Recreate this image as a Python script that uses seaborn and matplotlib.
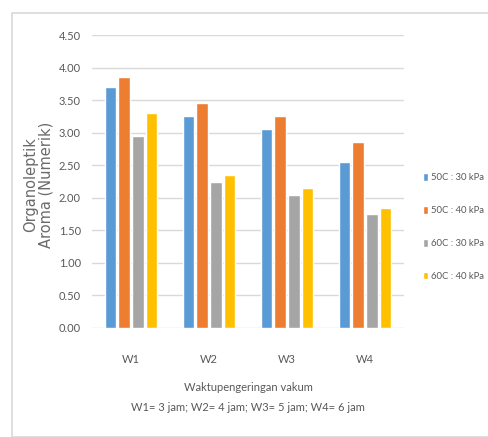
import matplotlib
matplotlib.use("Agg")
import matplotlib.pyplot as plt
import seaborn as sns
import pandas as pd
from matplotlib.patches import Rectangle

categories = ["W1", "W2", "W3", "W4"]
series_names = ["50C : 30 kPa", "50C : 40 kPa", "60C : 30 kPa", "60C : 40 kPa"]
s_50_30 = [3.70, 3.25, 3.05, 2.55]
s_50_40 = [3.85, 3.45, 3.25, 2.85]
s_60_30 = [2.95, 2.25, 2.05, 1.75]
s_60_40 = [3.30, 2.35, 2.15, 1.85]
yticks = [0.0, 0.5, 1.0, 1.5, 2.0, 2.5, 3.0, 3.5, 4.0, 4.5]
colors = ["#5B9BD5", "#ED7D31", "#A5A5A5", "#FFC000"]

rows = []
for name, vals in zip(series_names, [s_50_30, s_50_40, s_60_30, s_60_40]):
    for c, v in zip(categories, vals):
        rows.append({"cat": c, "series": name, "val": v})
df = pd.DataFrame(rows)

sns.set_theme(style="white")
plt.rcParams["font.family"] = ["Lato", "DejaVu Sans"]
txt = "#595959"

fig = plt.figure(figsize=(4.89, 4.37), dpi=100)
fig.patches.append(Rectangle((12 / 489, 0), 1.0, 1 - 13 / 437, transform=fig.transFigure,
                             fill=False, edgecolor="#D9D9D9", linewidth=1.2))
ax = fig.add_axes([92 / 489, 1 - 328 / 437, 312 / 489, 293 / 437])

sns.barplot(data=df, x="cat", y="val", hue="series", palette=colors, ax=ax,
            width=0.7, gap=0.15, order=categories, hue_order=series_names,
            errorbar=None, saturation=1, legend=True)

ax.set_ylim(0, 4.5)
ax.set_yticks(yticks)
ax.set_yticklabels([f"{t:.2f}" for t in yticks])
ax.yaxis.grid(True, color="#D9D9D9", linewidth=1)
ax.set_axisbelow(True)
for s in ax.spines.values():
    s.set_visible(False)
ax.tick_params(axis="both", length=0, labelsize=8, colors=txt)
ax.tick_params(axis="y", pad=8)
ax.tick_params(axis="x", pad=19)
ax.set_xlabel("Waktupengeringan vakum\nW1= 3 jam; W2= 4 jam; W3= 5 jam; W4= 6 jam",
              fontsize=8, color=txt, labelpad=12, linespacing=2.0)
ax.set_ylabel("Organoleptik\nAroma (Numerik)", fontsize=10.5, color="#6a6a6a", labelpad=4,
              family=["DejaVu Sans"], linespacing=1.1)
ax.yaxis.set_label_coords(-0.122, 0.49)

leg = ax.legend(loc="center left", bbox_to_anchor=(1.045, 0.345), frameon=False,
                fontsize=6.8, labelcolor=txt, handlelength=0.55, handleheight=0.9,
                handletextpad=0.3, labelspacing=2.5, borderpad=0)

fig.savefig("out.png", dpi=100)
